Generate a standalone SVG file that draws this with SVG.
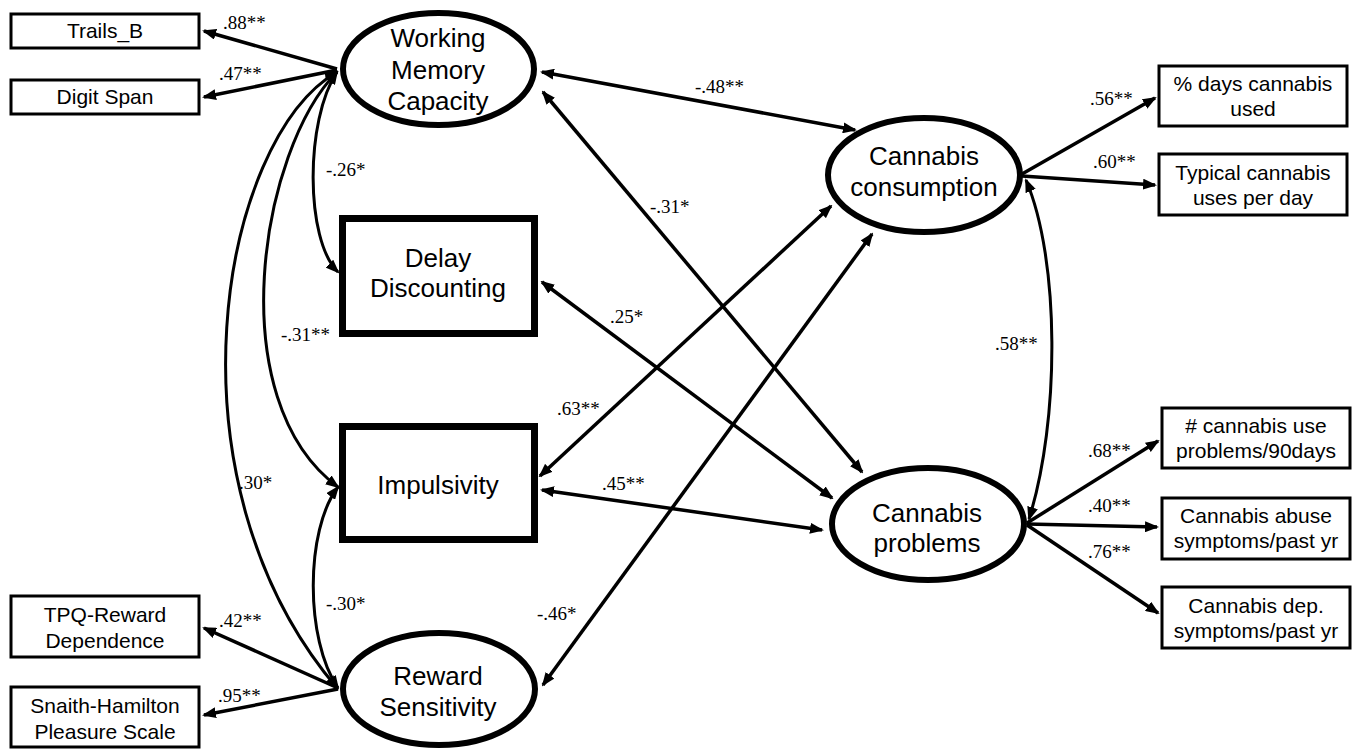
<svg xmlns="http://www.w3.org/2000/svg" width="1360" height="752" viewBox="0 0 1360 752">
<style>
.bg{fill:#fff}
.lat{fill:#fff;stroke:#000;stroke-width:6}
.big{fill:#fff;stroke:#000;stroke-width:7}
.ind{fill:#fff;stroke:#000;stroke-width:3}
.nt{font-family:"Liberation Sans",Arial,sans-serif;font-size:26px;fill:#000;text-anchor:middle}
.bt{font-family:"Liberation Sans",Arial,sans-serif;font-size:21px;fill:#000;text-anchor:middle}
.lb{font-family:"Liberation Serif","Times New Roman",serif;font-size:19px;fill:#000}
.c{fill:none;stroke:#000;stroke-width:3.5}
.cv{fill:none;stroke:#000;stroke-width:3}
</style>
<defs>
<marker id="ah" viewBox="0 0 14 11" refX="12" refY="5.5" markerWidth="14" markerHeight="11" markerUnits="userSpaceOnUse" orient="auto-start-reverse">
<path d="M0,0 L14,5.5 L0,11 z" fill="#000"/>
</marker>
</defs>
<rect class="bg" x="0" y="0" width="1360" height="752"/>

<g id="connectors">
<line class="c" x1="337" y1="69" x2="204" y2="31" marker-end="url(#ah)"/>
<line class="c" x1="337" y1="70" x2="204" y2="97" marker-end="url(#ah)"/>
<line class="c" x1="338" y1="688" x2="204" y2="628" marker-end="url(#ah)"/>
<line class="c" x1="338" y1="689" x2="204" y2="715" marker-end="url(#ah)"/>
<line class="c" x1="1022" y1="174" x2="1155" y2="98" marker-end="url(#ah)"/>
<line class="c" x1="1022" y1="176" x2="1155" y2="185" marker-end="url(#ah)"/>
<line class="c" x1="1027" y1="523" x2="1158" y2="441" marker-end="url(#ah)"/>
<line class="c" x1="1027" y1="524" x2="1157" y2="527" marker-end="url(#ah)"/>
<line class="c" x1="1027" y1="525" x2="1158" y2="613" marker-end="url(#ah)"/>
<path class="cv" d="M337,72 C305,120 305,240 338,272" marker-start="url(#ah)" marker-end="url(#ah)"/>
<path class="cv" d="M337,72 C260,150 220,400 338,487" marker-start="url(#ah)" marker-end="url(#ah)"/>
<path class="cv" d="M337,72 C220,140 160,480 337,688" marker-start="url(#ah)" marker-end="url(#ah)"/>
<path class="cv" d="M338,688 C305,640 305,530 338,487" marker-start="url(#ah)" marker-end="url(#ah)"/>
<line class="c" x1="542" y1="72" x2="855" y2="130" marker-start="url(#ah)" marker-end="url(#ah)"/>
<line class="c" x1="543" y1="92" x2="862" y2="472" marker-start="url(#ah)" marker-end="url(#ah)"/>
<line class="c" x1="542" y1="282" x2="832" y2="498" marker-start="url(#ah)" marker-end="url(#ah)"/>
<line class="c" x1="540" y1="476" x2="831" y2="206" marker-start="url(#ah)" marker-end="url(#ah)"/>
<line class="c" x1="542" y1="490" x2="822" y2="530" marker-start="url(#ah)" marker-end="url(#ah)"/>
<line class="c" x1="543" y1="685" x2="872" y2="234" marker-start="url(#ah)" marker-end="url(#ah)"/>
<path class="cv" d="M1026,180 C1060,260 1060,420 1029,519" marker-start="url(#ah)" marker-end="url(#ah)"/>
</g>

<g id="labels">
<text class="lb" x="223" y="29">.88**</text>
<text class="lb" x="219" y="80">.47**</text>
<text class="lb" x="326" y="176">-.26*</text>
<text class="lb" x="281" y="341">-.31**</text>
<text class="lb" x="239" y="489">.30*</text>
<text class="lb" x="326" y="610">-.30*</text>
<text class="lb" x="219" y="627">.42**</text>
<text class="lb" x="218" y="702">.95**</text>
<text class="lb" x="695" y="93">-.48**</text>
<text class="lb" x="650" y="213">-.31*</text>
<text class="lb" x="610" y="323">.25*</text>
<text class="lb" x="557" y="415">.63**</text>
<text class="lb" x="602" y="490">.45**</text>
<text class="lb" x="537" y="620">-.46*</text>
<text class="lb" x="995" y="350">.58**</text>
<text class="lb" x="1090" y="105">.56**</text>
<text class="lb" x="1093" y="168">.60**</text>
<text class="lb" x="1088" y="457">.68**</text>
<text class="lb" x="1088" y="512">.40**</text>
<text class="lb" x="1088" y="558">.76**</text>
</g>

<g id="trails_b">
<rect class="ind" x="11" y="14" width="188" height="34"/>
<text class="bt" x="105" y="38">Trails_B</text>
</g>
<g id="digit_span">
<rect class="ind" x="11" y="80" width="188" height="34"/>
<text class="bt" x="105" y="104">Digit Span</text>
</g>
<g id="tpq">
<rect class="ind" x="11" y="596" width="188" height="61"/>
<text class="bt" x="105" y="622">TPQ-Reward</text>
<text class="bt" x="105" y="648">Dependence</text>
</g>
<g id="snaith">
<rect class="ind" x="11" y="687" width="188" height="60"/>
<text class="bt" x="105" y="713">Snaith-Hamilton</text>
<text class="bt" x="105" y="739">Pleasure Scale</text>
</g>

<g id="wmc">
<ellipse class="lat" cx="438.5" cy="69" rx="95.5" ry="56"/>
<text class="nt" x="438" y="47">Working</text>
<text class="nt" x="438" y="79">Memory</text>
<text class="nt" x="438" y="110">Capacity</text>
</g>
<g id="delay">
<rect class="big" x="342.5" y="218.5" width="192" height="115"/>
<text class="nt" x="438" y="267">Delay</text>
<text class="nt" x="438" y="297">Discounting</text>
</g>
<g id="impulsivity">
<rect class="big" x="342.5" y="426.5" width="192" height="113"/>
<text class="nt" x="438" y="494">Impulsivity</text>
</g>
<g id="reward">
<ellipse class="lat" cx="439" cy="689" rx="96" ry="56"/>
<text class="nt" x="438" y="685">Reward</text>
<text class="nt" x="438" y="716">Sensitivity</text>
</g>
<g id="consumption">
<ellipse class="lat" cx="924" cy="175" rx="96" ry="57"/>
<text class="nt" x="924" y="165">Cannabis</text>
<text class="nt" x="924" y="196">consumption</text>
</g>
<g id="problems">
<ellipse class="lat" cx="928" cy="524" rx="96" ry="56"/>
<text class="nt" x="927" y="522">Cannabis</text>
<text class="nt" x="927" y="552">problems</text>
</g>

<g id="days_used">
<rect class="ind" x="1159" y="66" width="188" height="60"/>
<text class="bt" x="1253" y="91">% days cannabis</text>
<text class="bt" x="1253" y="116">used</text>
</g>
<g id="uses_per_day">
<rect class="ind" x="1159" y="154" width="188" height="61"/>
<text class="bt" x="1253" y="180">Typical cannabis</text>
<text class="bt" x="1253" y="205">uses per day</text>
</g>
<g id="use_problems">
<rect class="ind" x="1162" y="408" width="188" height="60"/>
<text class="bt" x="1256" y="433"># cannabis use</text>
<text class="bt" x="1256" y="458">problems/90days</text>
</g>
<g id="abuse">
<rect class="ind" x="1162" y="498" width="188" height="61"/>
<text class="bt" x="1256" y="523">Cannabis abuse</text>
<text class="bt" x="1256" y="548">symptoms/past yr</text>
</g>
<g id="dependence">
<rect class="ind" x="1162" y="587" width="188" height="61"/>
<text class="bt" x="1256" y="613">Cannabis dep.</text>
<text class="bt" x="1256" y="638">symptoms/past yr</text>
</g>
</svg>
